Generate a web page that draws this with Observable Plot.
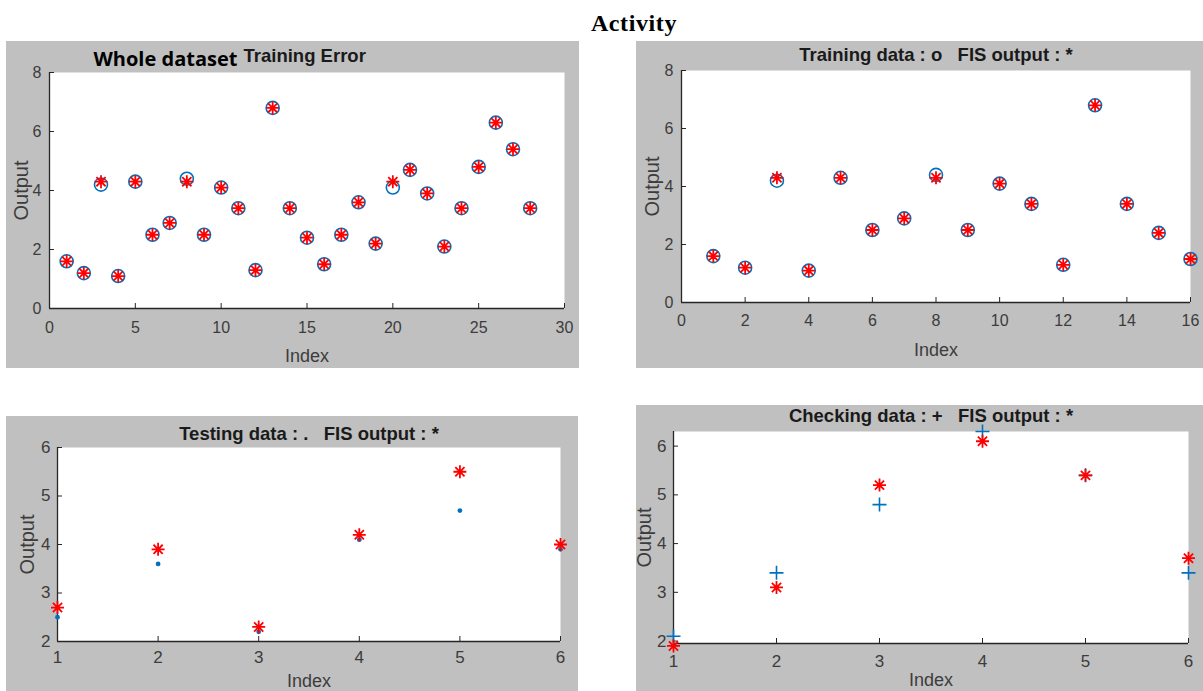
<!DOCTYPE html>
<html>
<head>
<meta charset="utf-8">
<script src="https://cdn.jsdelivr.net/npm/d3@7"></script>
<script src="https://cdn.jsdelivr.net/npm/@observablehq/plot@0.6"></script>
<style>
  html, body { margin: 0; padding: 0; background: #ffffff; }
  body { position: relative; width: 1203px; height: 691px; overflow: hidden; }
  #title { position: absolute; left: 0; width: 1268px; top: 10px; text-align: center;
           font: bold 24px "Liberation Serif", "Times New Roman", serif; letter-spacing: 0.6px; color: #000; }
  .panel { position: absolute; }
  .panel svg { display: block; }
</style>
</head>
<body>
<div id="title">Activity</div>
<div id="p1" class="panel"></div>
<div id="p2" class="panel"></div>
<div id="p3" class="panel"></div>
<div id="p4" class="panel"></div>
<script>
// ---- data: target output (o / . / +) and FIS output (*) per sample index ----
const wholeTarget = [1.6, 1.2, 4.2, 1.1, 4.3, 2.5, 2.9, 4.4, 2.5, 4.1, 3.4, 1.3, 6.8, 3.4, 2.4, 1.5, 2.5, 3.6, 2.2, 4.1, 4.7, 3.9, 2.1, 3.4, 4.8, 6.3, 5.4, 3.4];
const wholeFis    = [1.6, 1.2, 4.3, 1.1, 4.3, 2.5, 2.9, 4.3, 2.5, 4.1, 3.4, 1.3, 6.8, 3.4, 2.4, 1.5, 2.5, 3.6, 2.2, 4.3, 4.7, 3.9, 2.1, 3.4, 4.8, 6.3, 5.4, 3.4];

const trainTarget = [1.6, 1.2, 4.2, 1.1, 4.3, 2.5, 2.9, 4.4, 2.5, 4.1, 3.4, 1.3, 6.8, 3.4, 2.4, 1.5];
const trainFis    = [1.6, 1.2, 4.3, 1.1, 4.3, 2.5, 2.9, 4.3, 2.5, 4.1, 3.4, 1.3, 6.8, 3.4, 2.4, 1.5];

const testTarget  = [2.5, 3.6, 2.2, 4.1, 4.7, 3.9];
const testFis     = [2.7, 3.9, 2.3, 4.2, 5.5, 4.0];

const checkTarget = [2.1, 3.4, 4.8, 6.3, 5.4, 3.4];
const checkFis    = [1.9, 3.1, 5.2, 6.1, 5.4, 3.7];

// ---- tick values ----
const wholeXTicks = [0, 5, 10, 15, 20, 25, 30];
const trainXTicks = [0, 2, 4, 6, 8, 10, 12, 14, 16];
const outYTicks8  = [0, 2, 4, 6, 8];
const sixXTicks   = [1, 2, 3, 4, 5, 6];
const testYTicks  = [2, 3, 4, 5, 6];
const checkYTicks = [2, 3, 4, 5, 6];

// ---- titles and labels ----
const titleWholeA = "Whole dataset";
const titleWholeB = "Training Error";
const titleTrain  = "Training data : o   FIS output : *";
const titleTest   = "Testing data : .   FIS output : *";
const titleCheck  = "Checking data : +   FIS output : *";
const xLabel = "Index";
const yLabel = "Output";

// ---- styling ----
const PANEL_BG = "#c0c0c0";
const BLUE = "#0072bd";
const RED = "#ff0000";
const AXIS = "#262626";
const TICK_TEXT = "#3c3c3c";
const FONT = "'Liberation Sans', Arial, Helvetica, sans-serif";

// MATLAB-style '*' marker: a plus and a cross overlaid
const starSymbol = {
  draw(ctx, size) {
    const r = Math.sqrt(size / Math.PI);
    const d = r * Math.SQRT1_2;
    ctx.moveTo(-r, 0); ctx.lineTo(r, 0);
    ctx.moveTo(0, -r); ctx.lineTo(0, r);
    ctx.moveTo(-d, -d); ctx.lineTo(d, d);
    ctx.moveTo(-d, d); ctx.lineTo(d, -d);
  }
};
// MATLAB-style '+' marker
const plusSymbol = {
  draw(ctx, size) {
    const r = Math.sqrt(size / Math.PI);
    ctx.moveTo(-r, 0); ctx.lineTo(r, 0);
    ctx.moveTo(0, -r); ctx.lineTo(0, r);
  }
};

const idx = (d, i) => i + 1;

function panel(cfg) {
  const {el, left, top, width, height, m, xDomain, yDomain, xTicks, yTicks,
         xPad, yPad, tickFont, labelFont, titleMarks, yLabelDx, xLabelDy, marks} = cfg;
  const chart = Plot.plot({
    width, height,
    marginLeft: m[0], marginRight: m[1], marginTop: m[2], marginBottom: m[3],
    style: {background: PANEL_BG, fontFamily: FONT, overflow: "visible", whiteSpace: "pre"},
    x: {domain: xDomain},
    y: {domain: yDomain},
    marks: [
      Plot.frame({fill: "white", stroke: "none"}),
      // axis lines on the left and bottom edges
      Plot.ruleY([yDomain[0]], {stroke: AXIS, strokeWidth: 1.3}),
      Plot.ruleX([xDomain[0]], {stroke: AXIS, strokeWidth: 1.3}),
      // inward tick marks
      Plot.axisX(xTicks, {tickSize: 5, dy: -5, fill: "none", stroke: AXIS, label: null}),
      Plot.axisY(yTicks, {tickSize: 5, dx: 5, fill: "none", stroke: AXIS, label: null}),
      // tick labels
      Plot.axisX(xTicks, {tickSize: 0, tickPadding: xPad, fill: TICK_TEXT, fontSize: tickFont, label: null}),
      Plot.axisY(yTicks, {tickSize: 0, tickPadding: yPad, fill: TICK_TEXT, fontSize: tickFont, label: null}),
      // axis titles
      Plot.text([xLabel], {text: d => d, frameAnchor: "bottom", dy: xLabelDy, lineAnchor: "middle",
                           fill: TICK_TEXT, fontSize: labelFont}),
      Plot.text([yLabel], {text: d => d, frameAnchor: "left", dx: yLabelDx, rotate: -90, lineAnchor: "middle",
                           textAnchor: "middle", fill: TICK_TEXT, fontSize: labelFont + 2}),
      ...titleMarks,
      ...marks
    ]
  });
  const host = document.getElementById(el);
  host.style.left = left + "px";
  host.style.top = top + "px";
  host.appendChild(chart);
}

// Whole dataset
panel({
  el: "p1", left: 6, top: 41, width: 573, height: 327, m: [43, 15, 31, 60],
  xDomain: [0, 30], yDomain: [0, 8], xTicks: wholeXTicks, yTicks: outYTicks8,
  xPad: 13, yPad: 8, tickFont: 16, labelFont: 18, yLabelDx: -28, xLabelDy: 48,
  titleMarks: [
    Plot.text([titleWholeA], {text: d => d, frameAnchor: "top-left", dx: 44, dy: -13, lineAnchor: "middle",
      textAnchor: "start", fontFamily: "'Open Sans', sans-serif", fontWeight: "bold", fontSize: 20, fill: "#000"}),
    Plot.text([titleWholeB], {text: d => d, frameAnchor: "top-left", dx: 194, dy: -16, lineAnchor: "middle",
      textAnchor: "start", fontWeight: "bold", fontSize: 18.5, fill: "#1a1a1a"})
  ],
  marks: [
    Plot.dot(wholeTarget, {x: idx, y: d => d, r: 6.5, stroke: BLUE, strokeWidth: 1.6}),
    Plot.dot(wholeFis, {x: idx, y: d => d, r: 6.5, symbol: starSymbol, stroke: RED, strokeWidth: 1.8})
  ]
});

// Training data
panel({
  el: "p2", left: 636, top: 41, width: 567, height: 327, m: [45, 13, 29, 66],
  xDomain: [0, 16], yDomain: [0, 8], xTicks: trainXTicks, yTicks: outYTicks8,
  xPad: 12, yPad: 8, tickFont: 16, labelFont: 18, yLabelDx: -29, xLabelDy: 48,
  titleMarks: [
    Plot.text([titleTrain], {text: d => d, frameAnchor: "top", dy: -15, lineAnchor: "middle",
      fontWeight: "bold", fontSize: 18.5, fill: "#1a1a1a"})
  ],
  marks: [
    Plot.dot(trainTarget, {x: idx, y: d => d, r: 6.5, stroke: BLUE, strokeWidth: 1.6}),
    Plot.dot(trainFis, {x: idx, y: d => d, r: 6.5, symbol: starSymbol, stroke: RED, strokeWidth: 1.8})
  ]
});

// Testing data
panel({
  el: "p3", left: 6, top: 416, width: 572, height: 275, m: [51, 18, 31, 50],
  xDomain: [1, 6], yDomain: [2, 6], xTicks: sixXTicks, yTicks: testYTicks,
  xPad: 9, yPad: 7, tickFont: 17, labelFont: 18, yLabelDx: -30, xLabelDy: 40,
  titleMarks: [
    Plot.text([titleTest], {text: d => d, frameAnchor: "top", dy: -13, lineAnchor: "middle",
      fontWeight: "bold", fontSize: 18.5, fill: "#1a1a1a"})
  ],
  marks: [
    Plot.dot(testTarget, {x: idx, y: d => d, r: 2.4, fill: BLUE}),
    Plot.dot(testFis, {x: idx, y: d => d, r: 6.5, symbol: starSymbol, stroke: RED, strokeWidth: 1.8})
  ]
});

// Checking data
panel({
  el: "p4", left: 636, top: 405, width: 567, height: 286, m: [37, 15, 26, 48],
  xDomain: [1, 6], yDomain: [1.95, 6.3], xTicks: sixXTicks, yTicks: checkYTicks,
  xPad: 11, yPad: 7, tickFont: 17, labelFont: 18, yLabelDx: -29, xLabelDy: 37,
  titleMarks: [
    Plot.text([titleCheck], {text: d => d, frameAnchor: "top", dy: -15, lineAnchor: "middle",
      fontWeight: "bold", fontSize: 18.5, fill: "#1a1a1a"})
  ],
  marks: [
    Plot.dot(checkTarget, {x: idx, y: d => d, r: 7, symbol: plusSymbol, stroke: BLUE, strokeWidth: 1.6}),
    Plot.dot(checkFis, {x: idx, y: d => d, r: 6.5, symbol: starSymbol, stroke: RED, strokeWidth: 1.8})
  ]
});
</script>
</body>
</html>
